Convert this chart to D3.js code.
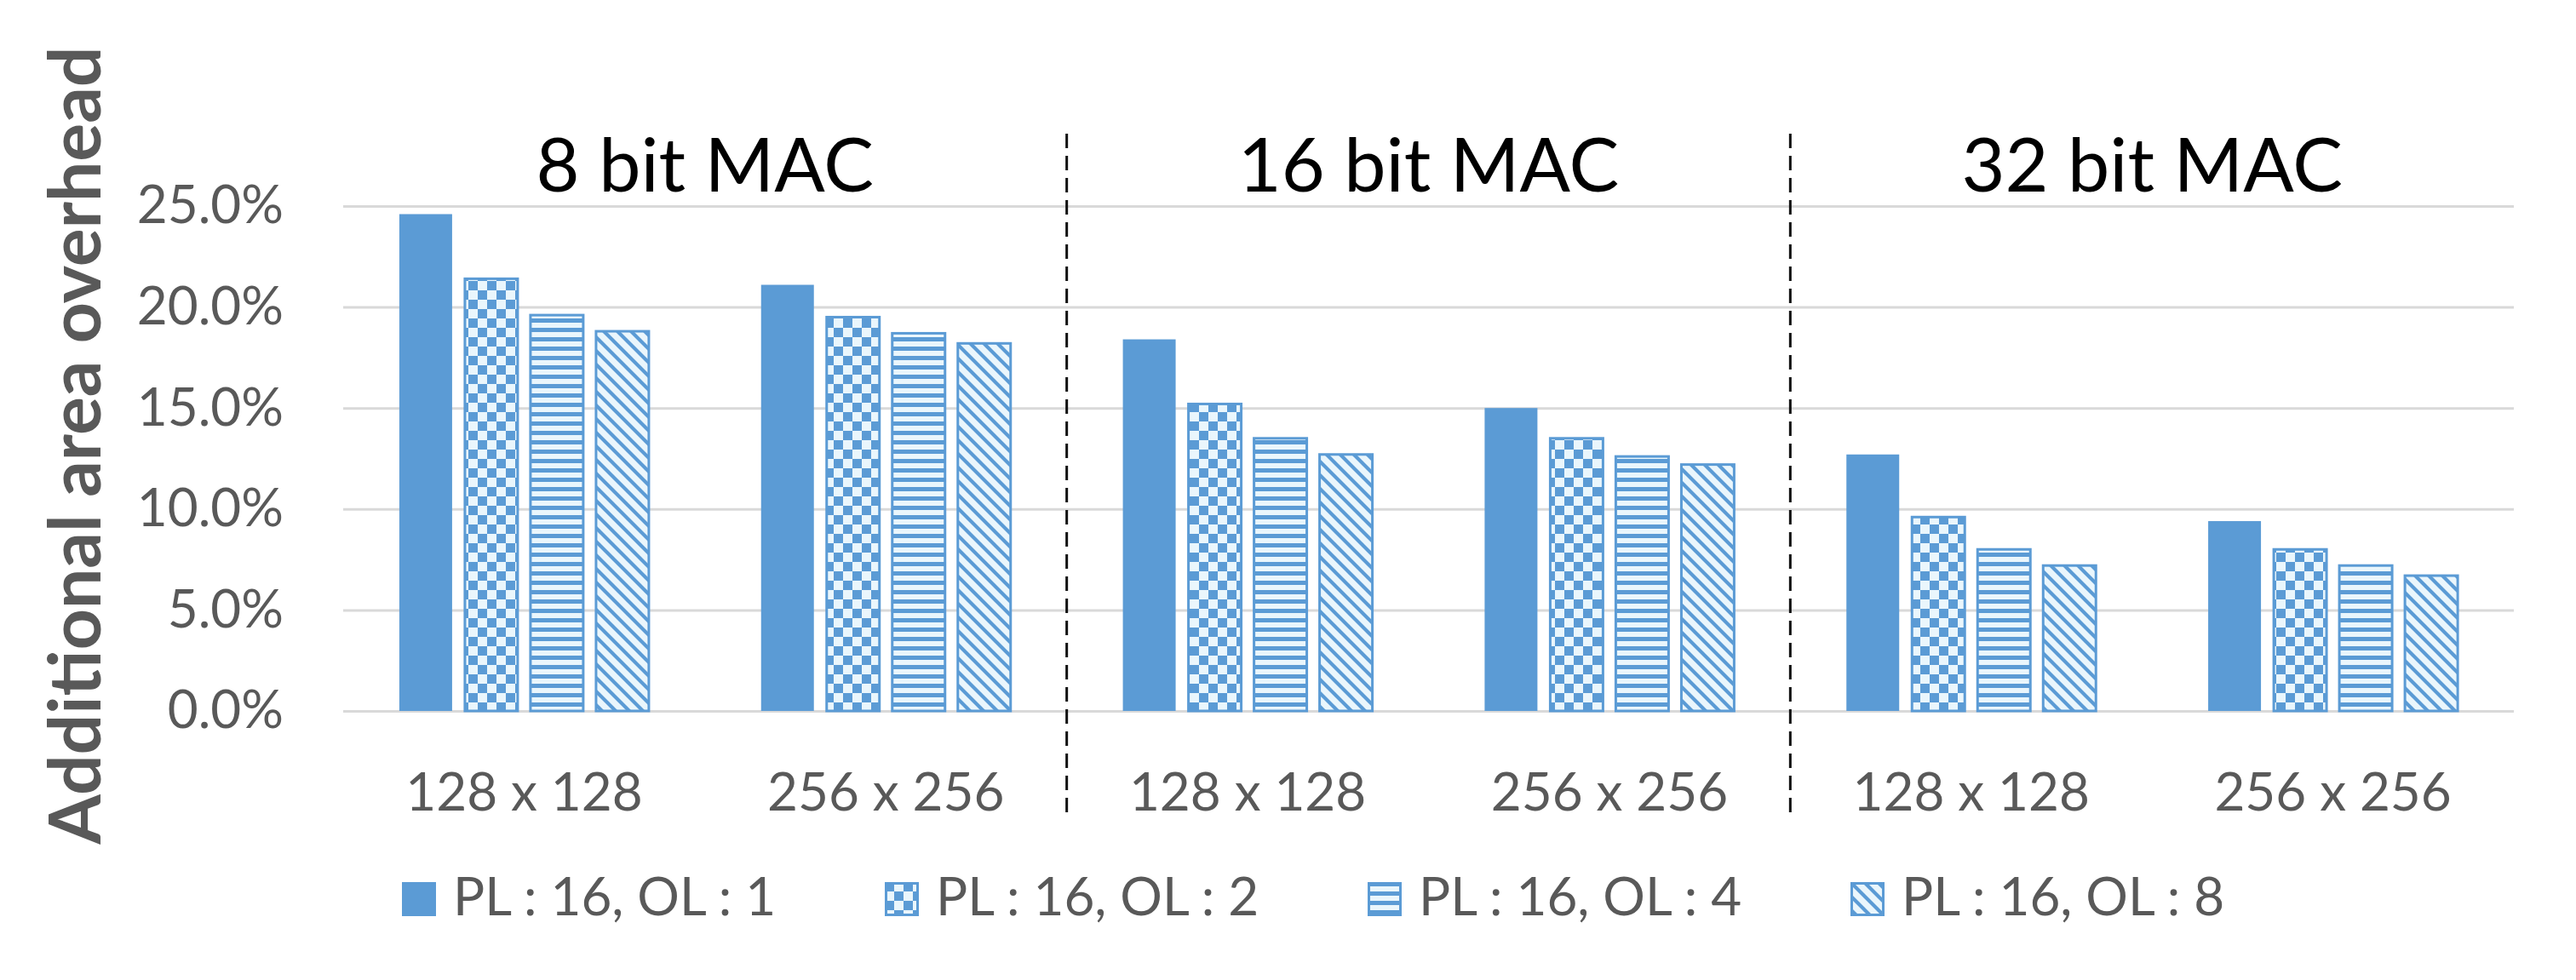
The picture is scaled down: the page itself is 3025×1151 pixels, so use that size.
<!DOCTYPE html>
<html>
    <style>
        body { margin: 0; background: #fff; }
        text { font-family: Lato, "Open Sans", sans-serif; }
    </style>
    <script src="https://d3js.org/d3.v7.min.js"></script>
    <body onload="main()">
        <svg></svg>
    </body>
    <script>
        // chart values
        var sections = ["8 bit MAC", "16 bit MAC", "32 bit MAC"]
        var sizes = ["128 x 128", "256 x 256"]
        var seriesNames = ["PL : 16, OL : 1", "PL : 16, OL : 2", "PL : 16, OL : 4", "PL : 16, OL : 8"]
        // one value per (section, size) pair, in order 8/128, 8/256, 16/128, 16/256, 32/128, 32/256
        var ol1 = [24.6, 21.1, 18.4, 15.0, 12.7, 9.4]
        var ol2 = [21.4, 19.5, 15.2, 13.5, 9.6, 8.0]
        var ol4 = [19.6, 18.7, 13.5, 12.6, 8.0, 7.2]
        var ol8 = [18.8, 18.2, 12.7, 12.2, 7.2, 6.7]
        var yTicks = [0, 5, 10, 15, 20, 25]

        function main() {
            var W = 3025, H = 1151
            var blue = "#5B9BD5", grey = "#595959", light = "#EAF6FC"
            var svg = d3.select("svg").attr("width", W).attr("height", H)

            var seriesValues = [ol1, ol2, ol4, ol8]
            var pairs = []
            sections.forEach(s => sizes.forEach(z => pairs.push(s + "|" + z)))
            var rows = []
            pairs.forEach((p, i) => seriesNames.forEach((n, j) => {
                rows.push({pair: p, series: n, value: seriesValues[j][i]})
            }))

            // fills: solid, large checker, horizontal lines, downward diagonal
            var defs = svg.append("defs")
            var chk = defs.append("pattern").attr("id", "p-chk").attr("patternUnits", "userSpaceOnUse")
                .attr("width", 22).attr("height", 22)
            chk.append("rect").attr("width", 22).attr("height", 22).attr("fill", light)
            chk.append("rect").attr("width", 11).attr("height", 11).attr("fill", blue)
            chk.append("rect").attr("x", 11).attr("y", 11).attr("width", 11).attr("height", 11).attr("fill", blue)

            var hl = defs.append("pattern").attr("id", "p-hl").attr("patternUnits", "userSpaceOnUse")
                .attr("width", 11).attr("height", 11)
            hl.append("rect").attr("width", 11).attr("height", 11).attr("fill", light)
            hl.append("rect").attr("width", 11).attr("height", 5).attr("fill", blue)

            var dg = defs.append("pattern").attr("id", "p-dg").attr("patternUnits", "userSpaceOnUse")
                .attr("width", 16).attr("height", 16)
            dg.append("rect").attr("width", 16).attr("height", 16).attr("fill", light)
            dg.append("path").attr("d", "M-2,-2L18,18M-6,10L6,22M10,-6L22,6")
                .attr("stroke", blue).attr("stroke-width", 4.2)

            var fills = ["solid", "url(#p-chk)", "url(#p-hl)", "url(#p-dg)"]
            var fillOf = d3.scaleOrdinal().domain(seriesNames).range(fills)

            // scales
            var x0 = d3.scaleBand().domain(pairs).range([403, 2952]).padding(0)
            var x1 = d3.scaleBand().domain(seriesNames).range([0, x0.bandwidth()])
                .paddingInner(0.195).paddingOuter(0.856)
            var y = d3.scaleLinear().domain([0, 25]).range([835, 242])

            // gridlines + y tick labels
            var yAxis = svg.append("g")
                .attr("transform", "translate(403,0)")
                .call(d3.axisLeft(y).tickValues(yTicks).tickSize(-(2952 - 403)).tickPadding(70)
                    .tickFormat(d => d.toFixed(1) + "%"))
            yAxis.select(".domain").remove()
            yAxis.selectAll("line").attr("stroke", "#D9D9D9").attr("stroke-width", 3)
            yAxis.selectAll("text").attr("fill", grey).style("font-size", "62px")
                .style("font-family", "Lato, 'Open Sans', sans-serif")

            // bars
            svg.append("g").selectAll("rect")
                .data(rows)
                .enter().append("rect")
                .attr("x", d => x0(d.pair) + x1(d.series))
                .attr("y", d => y(d.value))
                .attr("width", x1.bandwidth())
                .attr("height", d => y(0) - y(d.value))
                .attr("fill", d => fillOf(d.series) == "solid" ? blue : fillOf(d.series))
                .attr("stroke", d => fillOf(d.series) == "solid" ? "none" : blue)
                .attr("stroke-width", 3)

            // x axis: size labels
            var xAxis = svg.append("g")
                .attr("transform", "translate(0," + y(0) + ")")
                .call(d3.axisBottom(x0).tickSize(0).tickPadding(73).tickFormat(d => d.split("|")[1]))
            xAxis.select(".domain").remove()
            xAxis.selectAll("text").attr("fill", grey).style("font-size", "62px")
                .style("font-family", "Lato, 'Open Sans', sans-serif")

            // section titles over each pair of groups
            svg.append("g").selectAll("text")
                .data(sections)
                .enter().append("text")
                .attr("x", (d, i) => (x0(pairs[2 * i]) + x0(pairs[2 * i + 1]) + x0.bandwidth()) / 2)
                .attr("y", 225)
                .attr("text-anchor", "middle")
                .attr("fill", "#000")
                .style("font-size", "88px")
                .text(d => d)

            // dashed separators between sections
            svg.append("g").selectAll("line")
                .data(sections.slice(1))
                .enter().append("line")
                .attr("x1", (d, i) => x0(pairs[2 * (i + 1)]))
                .attr("x2", (d, i) => x0(pairs[2 * (i + 1)]))
                .attr("y1", 157).attr("y2", 962)
                .attr("stroke", "#111").attr("stroke-width", 3)
                .attr("stroke-dasharray", "17,9")

            // y axis title
            svg.append("text")
                .attr("transform", "translate(118,523) rotate(-90)")
                .attr("text-anchor", "middle")
                .attr("fill", grey)
                .style("font-size", "84px")
                .style("font-weight", "bold")
                .text("Additional area overhead")

            // legend
            var legend = svg.append("g").selectAll("g")
                .data(seriesNames)
                .enter().append("g")
                .attr("transform", (d, i) => "translate(" + (472 + i * 567) + ",1036)")
            legend.append("rect")
                .attr("x", 1.5).attr("y", 1.5)
                .attr("width", 37).attr("height", 37)
                .attr("fill", d => fillOf(d) == "solid" ? blue : fillOf(d))
                .attr("stroke", blue).attr("stroke-width", 3)
            legend.append("text")
                .attr("x", 60).attr("y", 39)
                .attr("fill", grey)
                .style("font-size", "62px")
                .text(d => d)
        }
    </script>
</html>
